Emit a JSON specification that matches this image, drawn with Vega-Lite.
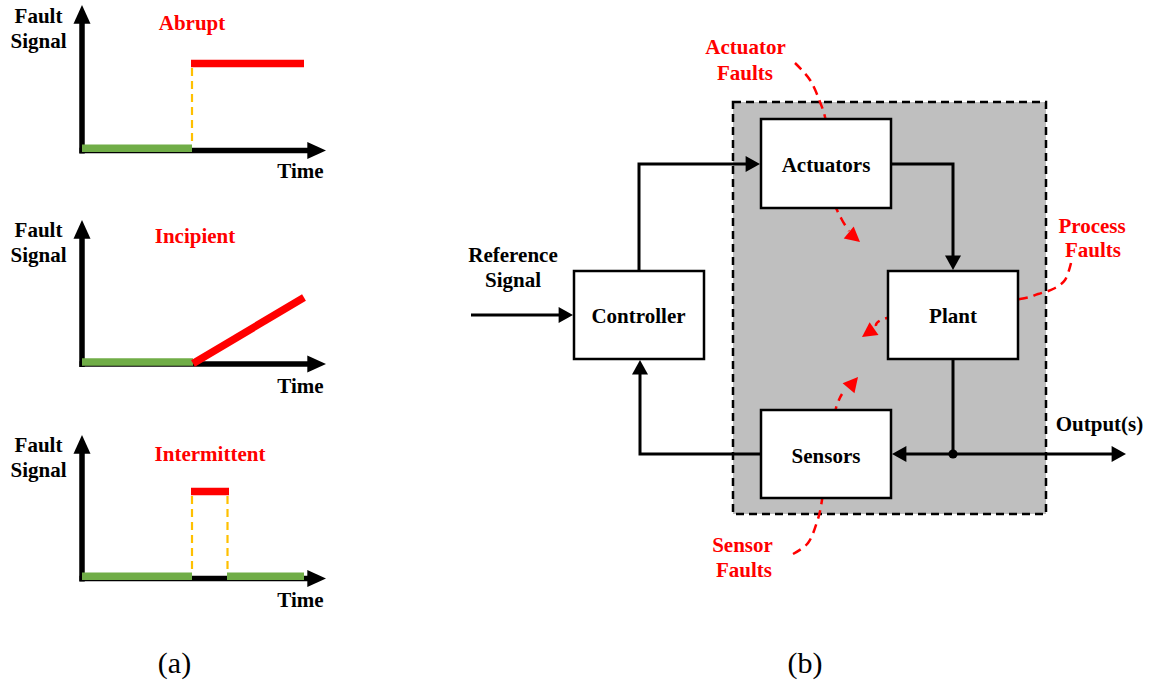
{
  "$schema": "https://vega.github.io/schema/vega-lite/v6.json",
  "width": 1152,
  "height": 680,
  "autosize": {"type": "fit", "contains": "padding"},
  "padding": 0,
  "background": "white",
  "config": {"view": {"stroke": null}},
  "datasets": {
    "region": [{"x": 733, "y": 102, "x2": 1046, "y2": 514}],
    "boxes": [
      {"name": "Actuators", "x": 761, "y": 119, "x2": 891, "y2": 208},
      {"name": "Plant", "x": 888, "y": 271, "x2": 1018, "y2": 359},
      {"name": "Sensors", "x": 761, "y": 410, "x2": 891, "y2": 498},
      {"name": "Controller", "x": 574, "y": 271, "x2": 704, "y2": 359}
    ],
    "faultCurves": [
      {"seg": "act", "i": 0, "x": 795, "y": 63},
      {"seg": "act", "i": 1, "x": 810, "y": 80},
      {"seg": "act", "i": 2, "x": 820, "y": 102},
      {"seg": "act", "i": 3, "x": 826, "y": 122},
      {"seg": "act", "i": 4, "x": 830, "y": 160},
      {"seg": "act", "i": 5, "x": 834, "y": 200},
      {"seg": "act", "i": 6, "x": 841, "y": 218},
      {"seg": "act", "i": 7, "x": 849, "y": 231},
      {"seg": "proc", "i": 0, "x": 1071, "y": 263},
      {"seg": "proc", "i": 1, "x": 1065, "y": 280},
      {"seg": "proc", "i": 2, "x": 1053, "y": 289},
      {"seg": "proc", "i": 3, "x": 1038, "y": 294},
      {"seg": "proc", "i": 4, "x": 1020, "y": 299},
      {"seg": "proc", "i": 5, "x": 950, "y": 308},
      {"seg": "proc", "i": 6, "x": 887, "y": 318},
      {"seg": "proc", "i": 7, "x": 876, "y": 326},
      {"seg": "sens", "i": 0, "x": 793, "y": 554},
      {"seg": "sens", "i": 1, "x": 808, "y": 543},
      {"seg": "sens", "i": 2, "x": 817, "y": 522},
      {"seg": "sens", "i": 3, "x": 822, "y": 500},
      {"seg": "sens", "i": 4, "x": 830, "y": 440},
      {"seg": "sens", "i": 5, "x": 836, "y": 408},
      {"seg": "sens", "i": 6, "x": 842, "y": 394}
    ],
    "redHeads": [
      {"x": 860, "y": 242, "a": 130},
      {"x": 862, "y": 337, "a": 235},
      {"x": 858, "y": 377, "a": 40}
    ],
    "axesA": [
      {"seg": "a1y", "i": 0, "x": 82, "y": 153.5},
      {"seg": "a1y", "i": 1, "x": 82, "y": 22},
      {"seg": "a1x", "i": 0, "x": 79.5, "y": 150.5},
      {"seg": "a1x", "i": 1, "x": 310, "y": 150.5},
      {"seg": "a2y", "i": 0, "x": 82, "y": 367},
      {"seg": "a2y", "i": 1, "x": 82, "y": 237},
      {"seg": "a2x", "i": 0, "x": 79.5, "y": 364},
      {"seg": "a2x", "i": 1, "x": 310, "y": 364},
      {"seg": "a3y", "i": 0, "x": 82, "y": 581.5},
      {"seg": "a3y", "i": 1, "x": 82, "y": 452},
      {"seg": "a3x", "i": 0, "x": 79.5, "y": 578.5},
      {"seg": "a3x", "i": 1, "x": 310, "y": 578.5}
    ],
    "headsA": [
      {"x": 82, "y": 5, "a": 0},
      {"x": 82, "y": 220, "a": 0},
      {"x": 82, "y": 435, "a": 0},
      {"x": 326, "y": 150.5, "a": 90},
      {"x": 326, "y": 364, "a": 90},
      {"x": 326, "y": 578.5, "a": 90}
    ],
    "green": [
      {"seg": "g1", "i": 0, "x": 82, "y": 148.3},
      {"seg": "g1", "i": 1, "x": 192, "y": 148.3},
      {"seg": "g2", "i": 0, "x": 82, "y": 362},
      {"seg": "g2", "i": 1, "x": 193, "y": 362},
      {"seg": "g3a", "i": 0, "x": 82, "y": 576.3},
      {"seg": "g3a", "i": 1, "x": 192, "y": 576.3},
      {"seg": "g3b", "i": 0, "x": 227, "y": 576.3},
      {"seg": "g3b", "i": 1, "x": 304, "y": 576.3}
    ],
    "red": [
      {"seg": "r1", "i": 0, "x": 191, "y": 63.5},
      {"seg": "r1", "i": 1, "x": 304, "y": 63.5},
      {"seg": "r2", "i": 0, "x": 193, "y": 363.5},
      {"seg": "r2", "i": 1, "x": 304, "y": 297.5},
      {"seg": "r3", "i": 0, "x": 191, "y": 491.5},
      {"seg": "r3", "i": 1, "x": 229, "y": 491.5}
    ],
    "orange": [
      {"seg": "o1", "i": 0, "x": 192, "y": 68},
      {"seg": "o1", "i": 1, "x": 192, "y": 144},
      {"seg": "o3a", "i": 0, "x": 192, "y": 496},
      {"seg": "o3a", "i": 1, "x": 192, "y": 572},
      {"seg": "o3b", "i": 0, "x": 227.5, "y": 496},
      {"seg": "o3b", "i": 1, "x": 227.5, "y": 572}
    ],
    "conn": [
      {"seg": "in", "i": 0, "x": 471, "y": 315},
      {"seg": "in", "i": 1, "x": 561, "y": 315},
      {"seg": "c2a", "i": 0, "x": 639, "y": 271},
      {"seg": "c2a", "i": 1, "x": 639, "y": 164},
      {"seg": "c2a", "i": 2, "x": 747, "y": 164},
      {"seg": "a2p", "i": 0, "x": 891, "y": 164},
      {"seg": "a2p", "i": 1, "x": 953, "y": 164},
      {"seg": "a2p", "i": 2, "x": 953, "y": 257},
      {"seg": "p2o", "i": 0, "x": 953, "y": 359},
      {"seg": "p2o", "i": 1, "x": 953, "y": 454},
      {"seg": "out", "i": 0, "x": 953, "y": 454},
      {"seg": "out", "i": 1, "x": 1113, "y": 454},
      {"seg": "toS", "i": 0, "x": 953, "y": 454},
      {"seg": "toS", "i": 1, "x": 905, "y": 454},
      {"seg": "s2c", "i": 0, "x": 761, "y": 454},
      {"seg": "s2c", "i": 1, "x": 640, "y": 454},
      {"seg": "s2c", "i": 2, "x": 640, "y": 373}
    ],
    "headsB": [
      {"x": 573, "y": 315, "a": 90},
      {"x": 760, "y": 164, "a": 90},
      {"x": 953, "y": 270, "a": 180},
      {"x": 1126, "y": 454, "a": 90},
      {"x": 892, "y": 454, "a": 270},
      {"x": 640, "y": 360, "a": 0}
    ],
    "dot": [{"x": 953, "y": 454}],
    "labelsBlack": [
      {"t": "Fault", "x": 38.5, "y": 23.3},
      {"t": "Signal", "x": 38.5, "y": 48.3},
      {"t": "Time", "x": 300.5, "y": 178},
      {"t": "Fault", "x": 38.5, "y": 236.7},
      {"t": "Signal", "x": 38.5, "y": 261.7},
      {"t": "Time", "x": 300.5, "y": 392.7},
      {"t": "Fault", "x": 38.5, "y": 451.7},
      {"t": "Signal", "x": 38.5, "y": 476.7},
      {"t": "Time", "x": 300.5, "y": 607.3},
      {"t": "Reference", "x": 513, "y": 262},
      {"t": "Signal", "x": 513, "y": 287},
      {"t": "Controller", "x": 638.5, "y": 323},
      {"t": "Actuators", "x": 826, "y": 172},
      {"t": "Plant", "x": 953, "y": 323},
      {"t": "Sensors", "x": 826, "y": 463},
      {"t": "Output(s)", "x": 1099.5, "y": 430.5}
    ],
    "labelsRed": [
      {"t": "Abrupt", "x": 192, "y": 30},
      {"t": "Incipient", "x": 195, "y": 243.3},
      {"t": "Intermittent", "x": 210, "y": 460.7},
      {"t": "Actuator", "x": 745.5, "y": 54.3},
      {"t": "Faults", "x": 745, "y": 80},
      {"t": "Process", "x": 1092, "y": 233},
      {"t": "Faults", "x": 1093, "y": 257},
      {"t": "Sensor", "x": 742.5, "y": 551.7},
      {"t": "Faults", "x": 744, "y": 576.7}
    ],
    "captions": [
      {"t": "(a)", "x": 174.5, "y": 673},
      {"t": "(b)", "x": 805, "y": 673}
    ]
  },
  "encoding": {
    "x": {"field": "x", "type": "quantitative", "scale": {"domain": [0, 1152], "nice": false, "zero": false}, "axis": null},
    "y": {"field": "y", "type": "quantitative", "scale": {"domain": [0, 680], "nice": false, "zero": false, "reverse": true}, "axis": null}
  },
  "layer": [
    {
      "data": {"name": "region"},
      "mark": {"type": "rect", "fill": "#BFBFBF", "stroke": "black", "strokeWidth": 2.5, "strokeDash": [8, 5]},
      "encoding": {"x2": {"field": "x2"}, "y2": {"field": "y2"}}
    },
    {
      "data": {"name": "faultCurves"},
      "mark": {"type": "line", "color": "#FF0000", "strokeWidth": 2.5, "strokeDash": [9, 6], "interpolate": "cardinal"},
      "encoding": {"detail": {"field": "seg"}, "order": {"field": "i", "type": "quantitative"}}
    },
    {
      "data": {"name": "boxes"},
      "mark": {"type": "rect", "fill": "white", "stroke": "black", "strokeWidth": 2.5},
      "encoding": {"x2": {"field": "x2"}, "y2": {"field": "y2"}}
    },
    {
      "data": {"name": "redHeads"},
      "mark": {"type": "point", "shape": "M0,0 L-1,1.9 L1,1.9 Z", "filled": true, "color": "#FF0000", "opacity": 1, "size": 240, "strokeWidth": 0},
      "encoding": {"angle": {"field": "a", "type": "quantitative", "scale": null}}
    },
    {
      "data": {"name": "axesA"},
      "mark": {"type": "line", "color": "black", "strokeWidth": 5.5, "strokeCap": "butt"},
      "encoding": {"detail": {"field": "seg"}, "order": {"field": "i", "type": "quantitative"}}
    },
    {
      "data": {"name": "headsA"},
      "mark": {"type": "point", "shape": "M0,0 L-1,2.2 L1,2.2 Z", "filled": true, "color": "black", "opacity": 1, "size": 289, "strokeWidth": 0},
      "encoding": {"angle": {"field": "a", "type": "quantitative", "scale": null}}
    },
    {
      "data": {"name": "green"},
      "mark": {"type": "line", "color": "#70AD47", "strokeWidth": 7.5, "strokeCap": "butt"},
      "encoding": {"detail": {"field": "seg"}, "order": {"field": "i", "type": "quantitative"}}
    },
    {
      "data": {"name": "orange"},
      "mark": {"type": "line", "color": "#FFC000", "strokeWidth": 2.2, "strokeDash": [8, 5], "strokeCap": "butt"},
      "encoding": {"detail": {"field": "seg"}, "order": {"field": "i", "type": "quantitative"}}
    },
    {
      "data": {"name": "red"},
      "mark": {"type": "line", "color": "#FF0000", "strokeWidth": 7.5, "strokeCap": "butt"},
      "encoding": {"detail": {"field": "seg"}, "order": {"field": "i", "type": "quantitative"}}
    },
    {
      "data": {"name": "conn"},
      "mark": {"type": "line", "color": "black", "strokeWidth": 3, "strokeCap": "butt", "strokeJoin": "miter"},
      "encoding": {"detail": {"field": "seg"}, "order": {"field": "i", "type": "quantitative"}}
    },
    {
      "data": {"name": "headsB"},
      "mark": {"type": "point", "shape": "M0,0 L-1,1.8 L1,1.8 Z", "filled": true, "color": "black", "opacity": 1, "size": 256, "strokeWidth": 0},
      "encoding": {"angle": {"field": "a", "type": "quantitative", "scale": null}}
    },
    {
      "data": {"name": "dot"},
      "mark": {"type": "circle", "color": "black", "opacity": 1, "size": 85}
    },
    {
      "data": {"name": "labelsBlack"},
      "mark": {"type": "text", "align": "center", "baseline": "alphabetic", "font": "'Liberation Serif', 'Times New Roman', 'DejaVu Serif', serif", "fontWeight": "bold", "fontSize": 21, "color": "black"},
      "encoding": {"text": {"field": "t"}}
    },
    {
      "data": {"name": "labelsRed"},
      "mark": {"type": "text", "align": "center", "baseline": "alphabetic", "font": "'Liberation Serif', 'Times New Roman', 'DejaVu Serif', serif", "fontWeight": "bold", "fontSize": 21, "color": "#FF0000"},
      "encoding": {"text": {"field": "t"}}
    },
    {
      "data": {"name": "captions"},
      "mark": {"type": "text", "align": "center", "baseline": "alphabetic", "font": "'Liberation Serif', 'Times New Roman', 'DejaVu Serif', serif", "fontSize": 30, "color": "black"},
      "encoding": {"text": {"field": "t"}}
    }
  ]
}
